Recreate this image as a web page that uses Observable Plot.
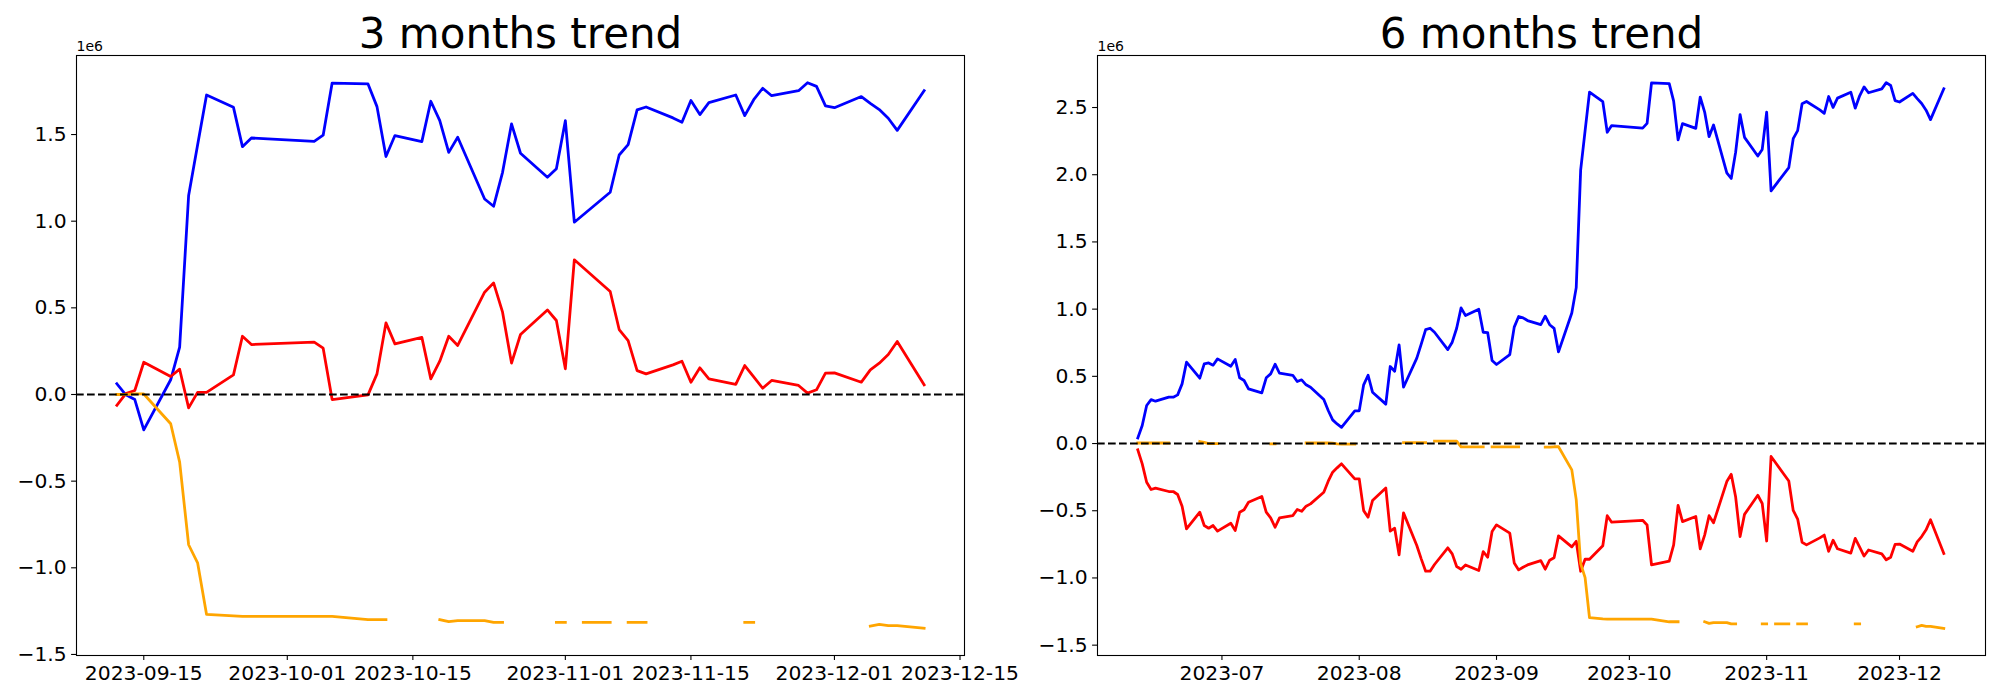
<!DOCTYPE html>
<html>
<head>
<meta charset="utf-8">
<script src="https://cdn.jsdelivr.net/npm/d3@7"></script>
<script src="https://cdn.jsdelivr.net/npm/@observablehq/plot@0.6"></script>
<style>
  html, body { margin: 0; padding: 0; background: #ffffff; }
  #wrap { display: flex; width: 2000px; height: 700px; background: #ffffff; }
  #wrap svg { overflow: visible; }
</style>
</head>
<body>
<div id="wrap"></div>
<script>
// ---------- 3 months trend (values in units of 1e6) ----------
const dates3m = [
  "2023-09-12","2023-09-13","2023-09-14","2023-09-15","2023-09-18","2023-09-19","2023-09-20","2023-09-21","2023-09-22","2023-09-25",
  "2023-09-26","2023-09-27","2023-10-04","2023-10-05","2023-10-06","2023-10-10","2023-10-11","2023-10-12","2023-10-13","2023-10-16",
  "2023-10-17","2023-10-18","2023-10-19","2023-10-20","2023-10-23","2023-10-24","2023-10-25","2023-10-26","2023-10-27","2023-10-30",
  "2023-10-31","2023-11-01","2023-11-02","2023-11-03","2023-11-06","2023-11-07","2023-11-08","2023-11-09","2023-11-10","2023-11-13",
  "2023-11-14","2023-11-15","2023-11-16","2023-11-17","2023-11-20","2023-11-21","2023-11-22","2023-11-23","2023-11-24","2023-11-27",
  "2023-11-28","2023-11-29","2023-11-30","2023-12-01","2023-12-04","2023-12-05","2023-12-06","2023-12-07","2023-12-08","2023-12-11"
];
const blue3m = [
  0.062, -0.002, -0.029, -0.204, 0.085, 0.274, 1.148, 1.440, 1.728, 1.657,
  1.430, 1.480, 1.461, 1.496, 1.797, 1.792, 1.661, 1.373, 1.494, 1.459,
  1.692, 1.580, 1.397, 1.484, 1.128, 1.086, 1.282, 1.561, 1.392, 1.253,
  1.302, 1.580, 0.994, null, 1.167, 1.382, 1.442, 1.642, 1.659, 1.596,
  1.571, 1.696, 1.615, 1.684, 1.728, 1.609, 1.701, 1.767, 1.724, 1.753,
  1.799, 1.778, 1.665, 1.655, 1.719, 1.680, 1.644, 1.594, 1.524, 1.753
];
const red3m = [
  -0.062, 0.005, 0.023, 0.186, 0.104, 0.146, -0.077, 0.012, 0.012, 0.113,
  0.336, 0.288, 0.302, 0.267, -0.029, -0.002, 0.119, 0.413, 0.292, 0.330,
  0.090, 0.192, 0.336, 0.283, 0.590, 0.644, 0.475, 0.181, 0.346, 0.488,
  0.427, 0.148, 0.777, null, 0.594, 0.375, 0.311, 0.138, 0.119, 0.171,
  0.192, 0.071, 0.154, 0.090, 0.058, 0.167, 0.102, 0.036, 0.081, 0.052,
  0.008, 0.027, 0.123, 0.125, 0.071, 0.142, 0.181, 0.231, 0.306, 0.056
];
const orange3m = [
  0.000, 0.000, 0.003, 0.003, -0.169, -0.390, -0.867, -0.971, -1.269, -1.278,
  -1.280, -1.280, -1.280, -1.280, -1.280, -1.299, -1.299, -1.299, null, null,
  null, -1.299, -1.311, -1.305, -1.305, -1.315, -1.315, null, null, null,
  -1.315, -1.315, null, -1.315, -1.315, null, -1.315, -1.315, -1.315, null,
  null, null, null, null, null, -1.315, -1.315, null, null, null,
  null, null, null, null, null, -1.336, -1.326, -1.334, -1.334, -1.349
];
const xTicks3m = ["2023-09-15","2023-10-01","2023-10-15","2023-11-01","2023-11-15","2023-12-01","2023-12-15"];
const yTicks3m = [-1.5, -1.0, -0.5, 0.0, 0.5, 1.0, 1.5];

// ---------- 6 months trend (values in units of 1e6) ----------
const dates6mEarly = [
  "2023-06-12","2023-06-13","2023-06-14","2023-06-15","2023-06-16","2023-06-19","2023-06-20","2023-06-21","2023-06-22","2023-06-23",
  "2023-06-26","2023-06-27","2023-06-28","2023-06-29","2023-06-30",
  "2023-07-03","2023-07-04","2023-07-05","2023-07-06","2023-07-07","2023-07-10","2023-07-11","2023-07-12","2023-07-13","2023-07-14",
  "2023-07-17","2023-07-18","2023-07-19","2023-07-20","2023-07-21","2023-07-24","2023-07-25","2023-07-26","2023-07-27","2023-07-28","2023-07-31",
  "2023-08-01","2023-08-02","2023-08-03","2023-08-04","2023-08-07","2023-08-08","2023-08-09","2023-08-10","2023-08-11",
  "2023-08-14","2023-08-15","2023-08-16","2023-08-17","2023-08-18","2023-08-21","2023-08-22","2023-08-23","2023-08-24","2023-08-25",
  "2023-08-28","2023-08-29","2023-08-30","2023-08-31","2023-09-01",
  "2023-09-04","2023-09-05","2023-09-06","2023-09-07","2023-09-08","2023-09-11"
];
const dates6m = dates6mEarly.concat(dates3m);
const blue6m = [
  0.042, 0.134, 0.283, 0.327, 0.315, 0.345, 0.345, 0.362, 0.444, 0.605,
  0.486, 0.593, 0.600, 0.583, 0.630,
  0.575, 0.625, 0.489, 0.469, 0.407, 0.377, 0.489, 0.518, 0.590, 0.523,
  0.508, 0.461, 0.474, 0.437, 0.419, 0.327, 0.246, 0.176, 0.146, 0.121, 0.243,
  0.243, 0.437, 0.508, 0.382, 0.293, 0.573, 0.538, 0.734, 0.419,
  0.635, 0.740, 0.848, 0.858, 0.828, 0.699, 0.754, 0.858, 1.009, 0.952,
  0.999, 0.828, 0.826, 0.618, 0.588,
  0.662, 0.866, 0.945, 0.935, 0.915, 0.885,
  0.948, 0.884, 0.857, 0.682, 0.971, 1.160, 2.034, 2.326, 2.614, 2.543,
  2.316, 2.366, 2.347, 2.382, 2.683, 2.678, 2.547, 2.259, 2.380, 2.345,
  2.578, 2.466, 2.283, 2.370, 2.014, 1.972, 2.168, 2.447, 2.278, 2.139,
  2.188, 2.466, 1.880, null, 2.053, 2.268, 2.328, 2.528, 2.545, 2.482,
  2.457, 2.582, 2.501, 2.570, 2.614, 2.495, 2.587, 2.653, 2.610, 2.639,
  2.685, 2.664, 2.551, 2.541, 2.605, 2.566, 2.530, 2.480, 2.410, 2.639
];
const red6m = [
  -0.047, -0.151, -0.288, -0.342, -0.332, -0.357, -0.357, -0.379, -0.466, -0.635,
  -0.511, -0.610, -0.630, -0.610, -0.652,
  -0.593, -0.647, -0.511, -0.493, -0.437, -0.394, -0.511, -0.553, -0.623, -0.553,
  -0.536, -0.491, -0.504, -0.466, -0.449, -0.362, -0.280, -0.213, -0.181, -0.151, -0.263,
  -0.263, -0.499, -0.548, -0.424, -0.330, -0.652, -0.630, -0.828, -0.516,
  -0.759, -0.858, -0.950, -0.950, -0.900, -0.776, -0.821, -0.915, -0.935, -0.903,
  -0.945, -0.804, -0.846, -0.655, -0.605,
  -0.667, -0.888, -0.940, -0.920, -0.903, -0.871,
  -0.935, -0.868, -0.850, -0.687, -0.769, -0.727, -0.950, -0.861, -0.861, -0.760,
  -0.537, -0.585, -0.571, -0.606, -0.902, -0.875, -0.754, -0.460, -0.581, -0.543,
  -0.783, -0.681, -0.537, -0.590, -0.283, -0.229, -0.398, -0.692, -0.527, -0.385,
  -0.446, -0.725, -0.096, null, -0.279, -0.498, -0.562, -0.735, -0.754, -0.702,
  -0.681, -0.802, -0.719, -0.783, -0.815, -0.706, -0.771, -0.837, -0.792, -0.821,
  -0.865, -0.846, -0.750, -0.748, -0.802, -0.731, -0.692, -0.642, -0.567, -0.817
];
const orange6m = [
  0.004, 0.004, 0.004, 0.004, 0.004, 0.004, null, null, null, null,
  0.015, 0.008, 0.000, 0.000, 0.000,
  null, null, null, null, null, null, null, -0.002, -0.002, null,
  null, null, null, 0.004, 0.004, 0.004, 0.004, 0.003, -0.003, -0.004, -0.004,
  null, null, null, null, null, null, null, null, 0.006,
  0.006, 0.006, 0.006, null, 0.018, 0.018, 0.018, 0.018, -0.025, -0.025,
  -0.025, -0.025, null, -0.025, -0.025,
  -0.025, -0.025, -0.025, null, null, null,
  -0.027, -0.027, -0.024, -0.024, -0.196, -0.417, -0.894, -0.998, -1.296, -1.305,
  -1.307, -1.307, -1.307, -1.307, -1.307, -1.326, -1.326, -1.326, null, null,
  null, -1.326, -1.338, -1.332, -1.332, -1.342, -1.342, null, null, null,
  -1.342, -1.342, null, -1.342, -1.342, null, -1.342, -1.342, -1.342, null,
  null, null, null, null, null, -1.342, -1.342, null, null, null,
  null, null, null, null, null, -1.363, -1.353, -1.361, -1.361, -1.376
];
const xTicks6m = ["2023-07","2023-08","2023-09","2023-10","2023-11","2023-12"];
const yTicks6m = [-1.5, -1.0, -0.5, 0.0, 0.5, 1.0, 1.5, 2.0, 2.5];

// ---------- helpers ----------
const utc = s => new Date(s.length === 7 ? s + "-01T00:00:00Z" : s + "T00:00:00Z");
const fmtY = d3.format(".1f");

function rows(dates, blue, red, orange) {
  return dates.map((d, i) => ({date: utc(d), blue: blue[i], red: red[i], orange: orange[i]}));
}

function panel({data, title, xDomain, yDomain, xTicks, xFmt, yTicks, marginLeft, marginRight}) {
  const lineStyle = {x: "date", strokeWidth: 2.78, strokeLinejoin: "round", strokeLinecap: "square"};
  return Plot.plot({
    width: 1000,
    height: 700,
    marginTop: 55,
    marginBottom: 45,
    marginLeft,
    marginRight,
    style: {fontFamily: "'DejaVu Sans', sans-serif", background: "transparent", color: "#000000", overflow: "visible"},
    x: {type: "utc", domain: xDomain},
    y: {domain: yDomain},
    marks: [
      Plot.line(data.filter(d => d.blue != null), {...lineStyle, y: "blue", stroke: "#0000ff"}),
      Plot.line(data.filter(d => d.red != null), {...lineStyle, y: "red", stroke: "#ff0000"}),
      Plot.line(data, {...lineStyle, y: "orange", stroke: "#ffa500"}),
      Plot.ruleY([0], {stroke: "#000000", strokeWidth: 2.08, strokeDasharray: "7.7,3.3"}),
      Plot.frame({stroke: "#000000", strokeWidth: 1.1}),
      Plot.axisX({ticks: xTicks.map(utc), tickFormat: xFmt, tickSize: 4.9, tickPadding: 4.9,
                  fontSize: 20.3, strokeWidth: 1.1, label: null}),
      Plot.axisY({ticks: yTicks, tickFormat: fmtY, tickSize: 4.9, tickPadding: 4.9,
                  fontSize: 20.3, strokeWidth: 1.1, label: null}),
      Plot.text([title], {text: d => d, frameAnchor: "top", lineAnchor: "bottom", dy: -8, fontSize: 42, fill: "#000000"}),
      Plot.text(["1e6"], {text: d => d, frameAnchor: "top-left", textAnchor: "start", lineAnchor: "bottom", dy: -4.5, fontSize: 14, fill: "#000000"})
    ]
  });
}

const wrap = document.getElementById("wrap");

wrap.appendChild(panel({
  data: rows(dates3m, blue3m, red3m, orange3m),
  title: "3 months trend",
  xDomain: [new Date("2023-09-07T12:00:00Z"), new Date("2023-12-15T12:00:00Z")],
  yDomain: [-1.506, 1.956],
  xTicks: xTicks3m,
  xFmt: d => d.toISOString().slice(0, 10),
  yTicks: yTicks3m,
  marginLeft: 76,
  marginRight: 36
}));

wrap.appendChild(panel({
  data: rows(dates6m, blue6m, red6m, orange6m),
  title: "6 months trend",
  xDomain: [new Date("2023-06-02T21:36:00Z"), new Date("2023-12-20T10:00:00Z")],
  yDomain: [-1.577, 2.887],
  xTicks: xTicks6m,
  xFmt: d => d.toISOString().slice(0, 7),
  yTicks: yTicks6m,
  marginLeft: 97,
  marginRight: 15
}));
</script>
</body>
</html>
